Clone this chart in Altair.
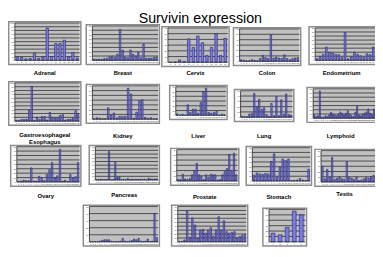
import altair as alt
import pandas as pd

# ---------------- data ----------------
chart_title = "Survivin expression"
labels = ["Adrenal", "Breast", "Cervix", "Colon", "Endometrium",
          ["Gastroesophageal", "Esophagus"], "Kidney", "Liver", "Lung", "Lymphoid",
          "Ovary", "Pancreas", "Prostate", "Stomach", "Testis", "", "", ""]

adrenal = [8, 8, 4, 5, 19, 5, 9, 87, 10, 45, 45, 54, 9, 21, 6]
breast = [3, 2, 3, 2, 4, 5, 8, 10, 7, 14, 72, 24, 8, 6, 24, 14, 10, 18, 6, 38, 5, 5, 5, 7, 8]
cervix = [0, 0.5, 4, 1.5, 41, 26, 46, 34, 12, 26, 50, 12, 42]
colon = [3, 2, 1, 1, 3, 2, 1, 5, 11, 7, 5, 49, 6, 8, 6, 5, 12, 5, 3, 5, 6, 7]
endometrium = [4, 9, 15, 33, 20, 18, 15, 14, 7, 69, 4, 9, 20, 15, 11, 7, 16, 14, 33]
gastro = [2, 2, 4, 5, 5, 29, 91, 2, 10, 5, 12, 12, 3, 23, 10, 8, 8, 15, 17, 3, 5, 5, 8, 27, 20]
kidney = [1, 3, 2, 1, 1, 24, 8, 13, 3, 6, 6, 6, 65, 53, 2, 15, 39, 41, 4, 2, 3, 1, 1]
liver = [3, 0, 2, 0, 22, 6, 13, 13, 4, 27, 49, 57, 6, 4, 6, 8, 0, 2, 1]
lung = [2, 1, 1, 6, 7, 45, 20, 34, 15, 18, 5, 2, 26, 3, 39, 3, 33, 6, 44, 5, 4]
lymphoid = [8, 4, 6, 65, 3, 2, 6, 4, 8, 14, 10, 8, 6, 10, 15, 12, 8, 12, 18, 10, 6,
            4, 14, 30, 8, 6, 10, 12, 15, 22, 12, 8, 22]
ovary = [1, 2, 4, 3, 3, 32, 2, 2, 13, 8, 3, 17, 28, 44, 9, 14, 74, 2, 4, 1, 17, 10, 12, 44]
pancreas = [1, 0, 2, 1, 1, 2, 77, 0, 1, 50, 7, 8, 0, 2, 0, 4, 1, 2, 1, 2, 1, 2, 1, 2, 0, 5, 3, 2, 3, 3]
prostate = [3, 3, 13, 4, 3, 5, 12, 20, 34, 12, 9, 3, 12, 7, 13, 12, 12, 2, 3, 12, 18, 24, 51, 18, 53, 12]
stomach = [12, 17, 15, 14, 16, 15, 41, 57, 8, 29, 46, 43, 46, 1, 1, 2, 5, 2, 1, 25]
testis = [30, 6, 24, 9, 47, 5, 7, 10, 6, 5, 39, 9, 7, 5, 9, 3, 4, 6, 9, 7, 10, 13]
extra_a = [0, 0, 0, 0, 1, 2, 3, 3, 3, 1, 0, 0, 0, 1, 5, 1, 0, 1, 2, 4, 3, 5, 1, 0, 1, 4, 0, 1, 40, 6]
extra_b = [0, 1, 5, 79, 12, 61, 43, 10, 30, 32, 22, 30, 36, 15, 30, 64, 30, 54, 26, 22, 24, 26, 11, 14, 17, 19]
extra_c = [16, 13, 27, 57, 50]

series = [adrenal, breast, cervix, colon, endometrium, gastro, kidney, liver, lung, lymphoid,
          ovary, pancreas, prostate, stomach, testis, extra_a, extra_b, extra_c]
axis_tops = [100, 80, 60, 60, 80, 100, 70, 60, 50, 70, 80, 90, 60, 70, 60, 50, 90, 60]
grid_counts = [10, 8, 6, 6, 8, 10, 7, 6, 5, 7, 8, 9, 6, 7, 6, 5, 9, 6]

# ---------------- layout (page pixels) ----------------
rows = [[0, 1, 2, 3, 4], [5, 6, 7, 8, 9], [10, 11, 12, 13, 14], [15, 16, 17]]
row_bounds = [(21, 80), (80, 144), (144, 203), (203, 249)]
frames = [
    (8, 21, 83, 66), (87, 24, 163, 66), (164, 26, 234, 68), (237, 27, 307, 67), (314, 26, 382, 66),
    (8, 82, 83, 128), (87, 85, 163, 126), (172, 86, 232, 122), (238, 90, 300, 124), (312, 88, 382, 125),
    (10, 144, 83, 187), (90, 144, 163, 185), (173, 147, 244, 186), (250, 145, 318, 186), (320, 148, 382, 187),
    (84, 205, 163, 248), (174, 205, 253, 248), (267, 208, 313, 248)]
label_ys = [74, 74, 74, 74, 74, 137, 138, 138, 138, 138, 196, 195, 197, 197, 194, None, None, None]
cut_right = [4, 9, 14]   # panels running past the right edge of the picture

BAR_FILL = "#7b7be6"
BAR_STROKE = "#22226a"
PLOT_BG = "#c0c0c0"
FONT = "Liberation Sans"
FSW = 1.5  # frame stroke width


def make_panel(i, left, rtop, rbot):
    fx0, fy0, fx1, fy1 = frames[i]
    W, H = fx1 - left, rbot - rtop
    ox, oy = fx0 - left, fy0 - rtop          # frame corner inside the cell
    fr, fb = fx1 - left, fy1 - rtop
    pl, pt, pr, pb = ox + 7, oy + 2, fr - 2, fb - 5   # plot area inside the cell
    ext = 12 if i in cut_right else 0
    clip = i in cut_right
    vals = series[i]
    top = axis_tops[i]
    n = grid_counts[i]
    step = top / n
    ticks = [round(step * k, 6) for k in range(n + 1)]
    df = pd.DataFrame({"cat": list(range(1, len(vals) + 1)), "val": vals})
    gdf = pd.DataFrame({"g": ticks})
    xs = alt.Scale(range=[pl, pr + (2 if clip else 0)], paddingInner=0.45, paddingOuter=0.3)
    ys = alt.Scale(domain=[0, top], range=[pb, pt], nice=False, zero=True)
    one = alt.Data(values=[{"k": 1}])
    e = FSW / 2

    cell = alt.Chart(one).mark_rect(fill="white", opacity=0).encode(
        x=alt.value(0), x2=alt.value(W), y=alt.value(0), y2=alt.value(H))
    frame = alt.Chart(one).mark_rect(fill="white", stroke="#8c8c8c", strokeWidth=FSW,
                                     clip=clip).encode(
        x=alt.value(ox + e), x2=alt.value(fr - e + ext), y=alt.value(oy + e), y2=alt.value(fb - e))
    plotbg = alt.Chart(one).mark_rect(fill=PLOT_BG, clip=clip).encode(
        x=alt.value(pl), x2=alt.value(pr + ext), y=alt.value(pt), y2=alt.value(pb))
    grid = alt.Chart(gdf).transform_filter("datum.g > 0").mark_rule(
        color="#1a1a1a", strokeWidth=0.7, clip=clip).encode(
        y=alt.Y("g:Q", scale=ys, axis=None), x=alt.value(pl), x2=alt.value(pr + ext))
    yline = alt.Chart(one).mark_rule(color="#222222", strokeWidth=0.8).encode(
        x=alt.value(pl), y=alt.value(pt), y2=alt.value(pb))
    xline = alt.Chart(one).mark_rule(color="#222222", strokeWidth=0.8, clip=clip).encode(
        y=alt.value(pb), x=alt.value(pl), x2=alt.value(pr + ext))
    ylabels = alt.Chart(gdf).mark_text(fontSize=2.2, font=FONT, color="#333333",
                                       align="right", baseline="middle").encode(
        y=alt.Y("g:Q", scale=ys, axis=None), x=alt.value(pl - 1),
        text=alt.Text("g:Q", format="d"))
    bars = alt.Chart(df).mark_bar(fill=BAR_FILL, stroke=BAR_STROKE, strokeWidth=0.6,
                                  clip=clip).encode(
        x=alt.X("cat:O", scale=xs, axis=None),
        y=alt.Y("val:Q", scale=ys, axis=None))
    xlabels = alt.Chart(df).mark_text(fontSize=2.0, font=FONT, color="#333333",
                                      align="center", baseline="top", clip=clip).encode(
        x=alt.X("cat:O", scale=xs, axis=None), y=alt.value(pb + 1), text="cat:O")
    layers = [cell, frame, plotbg, grid, bars, yline, xline, ylabels, xlabels]
    if label_ys[i] is not None:
        lab = alt.Chart(one).mark_text(
            text=labels[i], fontSize=6, fontWeight="bold", font=FONT, color="black",
            align="center", baseline="middle", lineHeight=7).encode(
            x=alt.value((ox + fr) / 2), y=alt.value(label_ys[i] - rtop))
        layers.append(lab)
    return alt.layer(*layers).properties(width=W, height=H)


row_charts = []
for r, idxs in enumerate(rows):
    rtop, rbot = row_bounds[r]
    left = 8
    cells = []
    for i in idxs:
        cells.append(make_panel(i, left, rtop, rbot))
        left = frames[i][2]
    row_charts.append(alt.hconcat(*cells, spacing=0))

chart = alt.vconcat(*row_charts, spacing=0).properties(
    title=alt.TitleParams(chart_title, fontSize=14.5, font=FONT, fontWeight="normal",
                          anchor="middle", offset=-5, dx=9, color="black"),
    padding=0,
).configure_view(strokeWidth=0)

chart.save("out.html", embed_options={"renderer": "svg", "actions": False})
